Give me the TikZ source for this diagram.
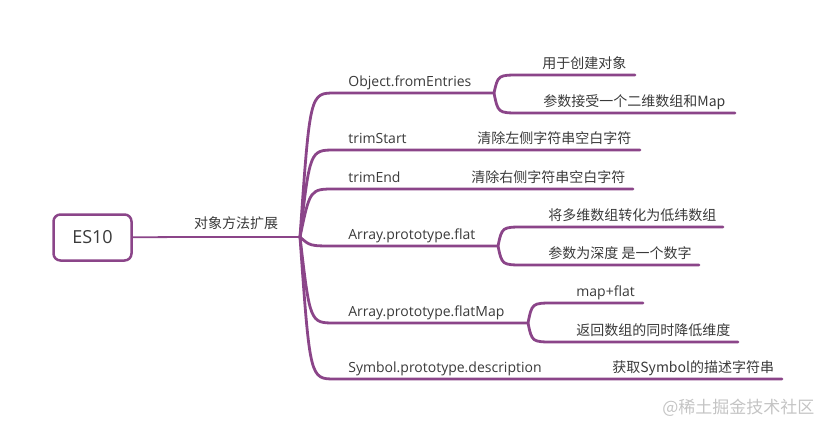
\documentclass[tikz,border=0pt]{standalone}
\usepackage{fontspec}
\setmainfont{Open Sans}
\newfontfamily\cjk{Noto Sans CJK SC}
\usetikzlibrary{positioning}
\definecolor{mmpurple}{HTML}{8B4589}
\definecolor{mmtext}{HTML}{3A3A3A}
\definecolor{mmmark}{HTML}{C4C4C4}
\tikzset{every picture/.style={line width=0.75pt}}

\begin{document}
\begin{tikzpicture}[x=1pt, y=-1pt,
        every node/.style={text=mmtext, inner sep=0pt, font=\fontsize{14}{16}\selectfont},
        branch/.style={draw=mmpurple, line width=2.8pt, line cap=round, line join=round},
        stem/.style={draw=mmpurple, line width=1.8pt},
        zh/.style={font=\cjk\fontsize{14}{16}\selectfont},
        topic/.style={anchor=base west}]
        \useasboundingbox (0,0) rectangle (832,431);

        % root and main topic
        \coordinate (hub) at (300,237);
        \coordinate (joint) at (185,237);
        \node[draw=mmpurple, line width=2.5pt, rounded corners=7pt, fill=white,
              minimum width=78pt, minimum height=46pt,
              font=\fontsize{18}{20}\selectfont] (es10) at (92.5,237.5) {ES10};
        \draw[stem] (es10) -- (joint);
        \draw[branch] (joint) -- (hub);
        \node[zh, anchor=base] (methods) at (236,228) {对象方法扩展};

        % first level
        \coordinate (obj) at (335,93);    \coordinate (objfork) at (494,93);
        \coordinate (trims) at (335,150); \coordinate (trimsend) at (640,150);
        \coordinate (trime) at (335,189); \coordinate (trimeend) at (633,189);
        \coordinate (flat) at (335,246);  \coordinate (flatfork) at (498,246);
        \coordinate (fmap) at (335,323);  \coordinate (fmapfork) at (528,323);
        \coordinate (sym) at (335,379);   \coordinate (symend) at (782,379);
        \draw[branch] (hub) .. controls ([xshift=10pt]hub |- obj) .. (obj) -- (objfork);
        \draw[branch] (hub) .. controls ([xshift=10pt]hub |- trims) .. (trims) -- (trimsend);
        \draw[branch] (hub) .. controls ([xshift=10pt]hub |- trime) .. (trime) -- (trimeend);
        \draw[branch] (hub) .. controls ([xshift=10pt]hub |- flat) .. (flat) -- (flatfork);
        \draw[branch] (hub) .. controls ([xshift=10pt]hub |- fmap) .. (fmap) -- (fmapfork);
        \draw[branch] (hub) .. controls ([xshift=10pt]hub |- sym) .. (sym) -- (symend);
        \node[topic] (objtxt) at (348,86) {Object.fromEntries};
        \node[topic] (trimstxt) at (348,143) {trimStart};
        \node[topic, zh] (trimsdesc) at (477,143) {清除左侧字符串空白字符};
        \node[topic] (trimetxt) at (348,182) {trimEnd};
        \node[topic, zh] (trimedesc) at (471,182) {清除右侧字符串空白字符};
        \node[topic] (flattxt) at (348,239) {Array.prototype.flat};
        \node[topic] (fmaptxt) at (348,316) {Array.prototype.flatMap};
        \node[topic] (symtxt) at (348,372) {Symbol.prototype.description};
        \node[topic, zh] (symdesc) at (612,372) {获取Symbol的描述字符串};

        % second level
        \coordinate (create) at (520,75);  \coordinate (createend) at (635,75);
        \coordinate (param) at (520,113);  \coordinate (paramend) at (735,113);
        \coordinate (multi) at (524,227);  \coordinate (multiend) at (723,227);
        \coordinate (depth) at (524,265);  \coordinate (depthend) at (699,265);
        \coordinate (mapflat) at (554,303); \coordinate (mapflatend) at (643,303);
        \coordinate (lower) at (554,342);  \coordinate (lowerend) at (738,342);
        \draw[branch] (objfork) .. controls ([xshift=4pt]objfork |- create) .. (create) -- (createend);
        \draw[branch] (objfork) .. controls ([xshift=4pt]objfork |- param) .. (param) -- (paramend);
        \draw[branch] (flatfork) .. controls ([xshift=4pt]flatfork |- multi) .. (multi) -- (multiend);
        \draw[branch] (flatfork) .. controls ([xshift=4pt]flatfork |- depth) .. (depth) -- (depthend);
        \draw[branch] (fmapfork) .. controls ([xshift=4pt]fmapfork |- mapflat) .. (mapflat) -- (mapflatend);
        \draw[branch] (fmapfork) .. controls ([xshift=4pt]fmapfork |- lower) .. (lower) -- (lowerend);
        \node[topic, zh] (createtxt) at (542,68) {用于创建对象};
        \node[topic, zh] (paramtxt) at (543,106) {参数接受一个二维数组和Map};
        \node[topic, zh] (multitxt) at (548,220) {将多维数组转化为低纬数组};
        \node[topic, zh] (depthtxt) at (548,258) {参数为深度 是一个数字};
        \node[topic] (mapflattxt) at (576,296) {map+flat};
        \node[topic, zh] (lowertxt) at (576,335) {返回数组的同时降低维度};

        % watermark
        \node[anchor=base west, text=mmmark, font=\cjk\fontsize{17}{19}\selectfont] (mark) at (662,413) {@稀土掘金技术社区};
\end{tikzpicture}
\end{document}
